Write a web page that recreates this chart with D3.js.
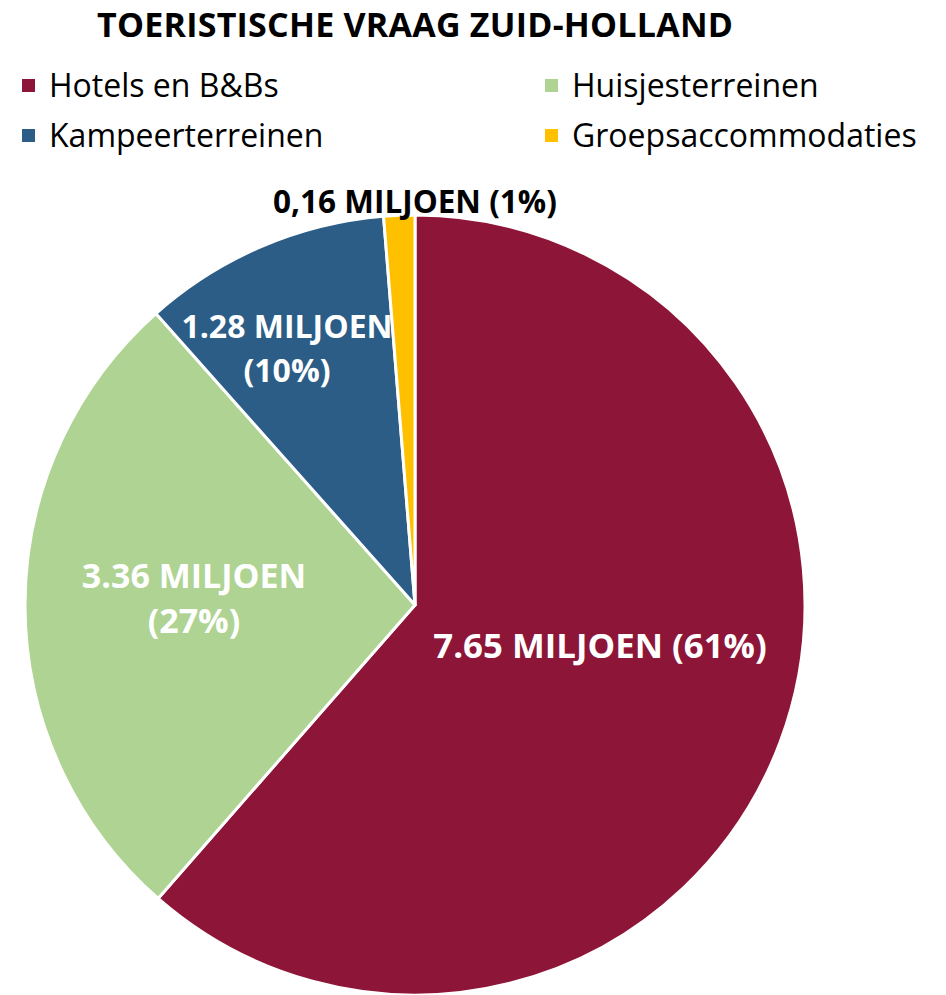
<!DOCTYPE html>
<html><head><meta charset="utf-8">
<script src="https://cdn.jsdelivr.net/npm/d3@7"></script>
<style>body{margin:0;background:#fff}svg{display:block}text{font-family:"Open Sans",sans-serif}</style>
</head><body>
<svg id="c" width="946" height="995"></svg>
<script>
const categories = ["Hotels en B&Bs", "Huisjesterreinen", "Kampeerterreinen", "Groepsaccommodaties"];
const values = [7.65, 3.36, 1.28, 0.16];
const valueLabels = ["7.65 MILJOEN", "3.36 MILJOEN", "1.28 MILJOEN", "0,16 MILJOEN"];
const percentLabels = ["(61%)", "(27%)", "(10%)", "(1%)"];
const colors = ["#8D1538", "#AED392", "#2B5D87", "#FFC000"];

const svg = d3.select("#c");
const cx = 415, cy = 605, r = 390;

svg.append("text").attr("x", 415).attr("y", 36.5).attr("text-anchor", "middle")
  .style("font-weight", "700").style("font-size", "34px").attr("fill", "#000")
  .attr("textLength", 636).attr("lengthAdjust", "spacing")
  .text("TOERISTISCHE VRAAG ZUID-HOLLAND");

// legend
const legPos = [[22, 97], [545, 97], [22, 147], [545, 147]];
categories.forEach((c, i) => {
  const [x, y] = legPos[i];
  svg.append("rect").attr("x", x).attr("y", y - 18).attr("width", 13).attr("height", 13).attr("fill", colors[i]);
  svg.append("text").attr("x", x + 27).attr("y", y).style("font-size", "32px").attr("fill", "#000").text(c);
});

const pie = d3.pie().sort(null).value(d => d)(values);
const arc = d3.arc().innerRadius(0).outerRadius(r);
const g = svg.append("g").attr("transform", `translate(${cx},${cy})`);
g.selectAll("path").data(pie).enter().append("path")
  .attr("d", arc).attr("fill", (d, i) => colors[i])
  .attr("stroke", "#fff").attr("stroke-width", 3).attr("stroke-linejoin", "round");

// labels
const lbl = (x, y, t, fill, fs) => svg.append("text").attr("x", x).attr("y", y).attr("text-anchor", "middle")
  .style("font-weight", "700").style("font-size", fs + "px").attr("fill", fill).text(t);
lbl(600, 658, valueLabels[0] + " " + percentLabels[0], "#fff", 34.8);
lbl(194, 588, valueLabels[1], "#fff", 34);
lbl(194, 633, percentLabels[1], "#fff", 34);
lbl(287, 338, valueLabels[2], "#fff", 32);
lbl(287, 382, percentLabels[2], "#fff", 32);
lbl(415, 213, valueLabels[3] + " " + percentLabels[3], "#000", 31.5);
</script>
</body></html>
